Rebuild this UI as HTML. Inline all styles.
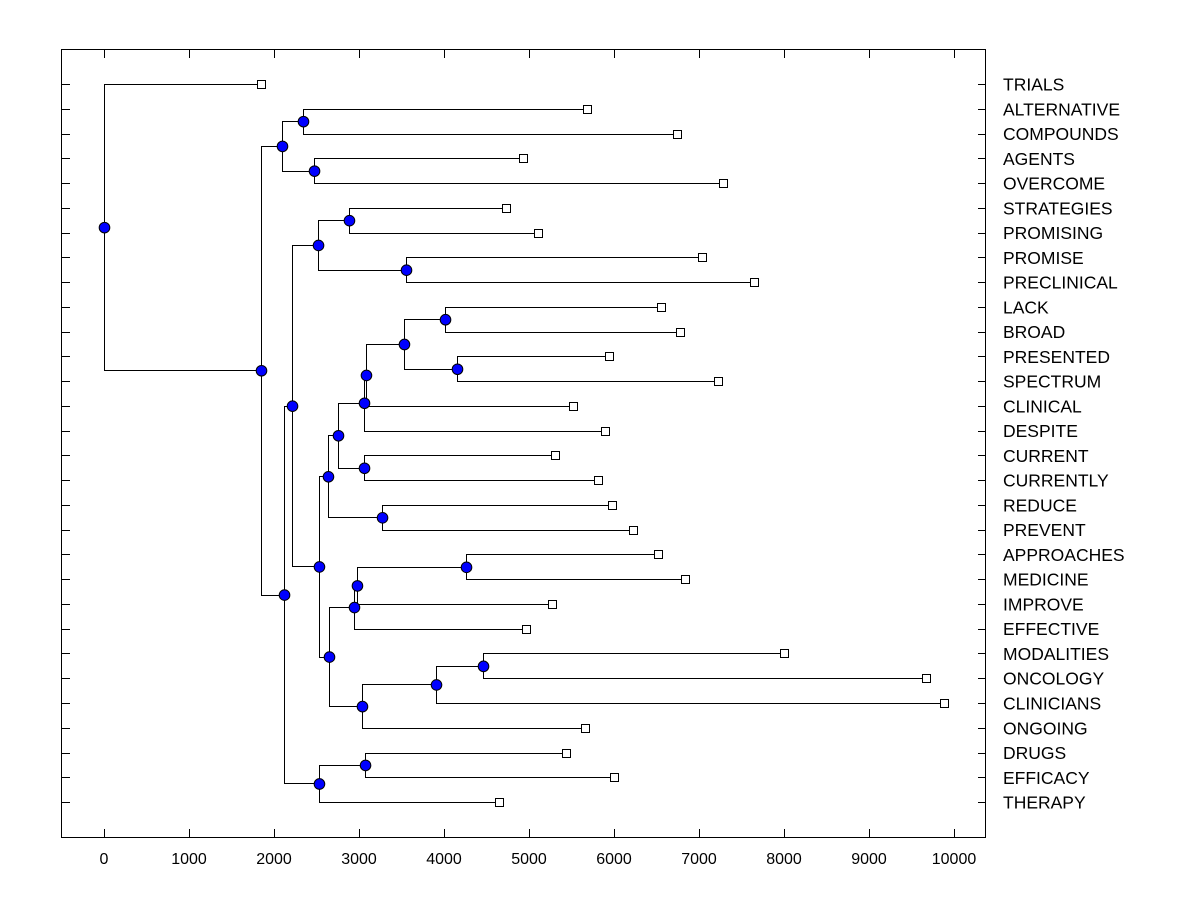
<!DOCTYPE html>
<html><head><meta charset="utf-8"><style>
html,body{margin:0;padding:0;background:#fff;}
svg{display:block;font-family:"Liberation Sans",Arial,sans-serif;}
</style></head><body>
<svg id="chart" width="1200" height="900" viewBox="0 0 1200 900" xmlns="http://www.w3.org/2000/svg">
<rect x="0" y="0" width="1200" height="900" fill="#fff"/>
<rect x="61.5" y="49.5" width="924" height="788" fill="none" stroke="#000" stroke-width="1"/>
<g id="axes"></g><g id="links"></g><g id="nodes"></g><g id="labels"></g>
</svg>
<script>
const leafLabels = ["TRIALS","ALTERNATIVE","COMPOUNDS","AGENTS","OVERCOME","STRATEGIES","PROMISING","PROMISE","PRECLINICAL","LACK","BROAD","PRESENTED","SPECTRUM","CLINICAL","DESPITE","CURRENT","CURRENTLY","REDUCE","PREVENT","APPROACHES","MEDICINE","IMPROVE","EFFECTIVE","MODALITIES","ONCOLOGY","CLINICIANS","ONGOING","DRUGS","EFFICACY","THERAPY"];
const leafValues = [1847,5682,6741,4929,7282,4729,5106,7035,7647,6553,6776,5941,7224,5518,5894,5306,5812,5976,6224,6518,6835,5271,4965,8000,9671,9882,5659,5435,6000,4647];
const mergeLeft  = [1,3,"n0",5,7,"n3",9,11,"n6","n8","n9",15,"n10",17,"n12",19,"n15","n16",23,"n18","n19","n17","n14","n5",27,"n24","n23","n2",0];
const mergeRight = [2,4,"n1",6,8,"n4",10,12,"n7",13,14,16,"n11",18,"n13",20,21,22,24,25,26,"n20","n21","n22",28,29,"n25","n26","n27"];
const mergeHeights = [2341,2471,2094,2882,3553,2518,4012,4153,3529,3082,3059,3059,2753,3271,2635,4259,2976,2941,4459,3906,3035,2647,2529,2212,3071,2529,2118,1847,0];
const xTicks = [0,1000,2000,3000,4000,5000,6000,7000,8000,9000,10000];

const NS="http://www.w3.org/2000/svg";
const X0=104, PX=0.085, Y0=84, ROW=24.76;
const xs = v => X0 + v*PX;
const ys = i => Y0 + i*ROW;
function mk(tag, attrs, parent){const e=document.createElementNS(NS,tag);for(const k in attrs)e.setAttribute(k,attrs[k]);parent.appendChild(e);return e;}
const axes=document.getElementById('axes'), links=document.getElementById('links'), nodes=document.getElementById('nodes'), labels=document.getElementById('labels');

xTicks.forEach(t=>{
  const x=Math.round(xs(t))+0.5;
  let l=mk('line',{x1:x,x2:x,y1:829,y2:838,stroke:'#000'},axes);
  
  
  l=mk('line',{x1:x,x2:x,y1:49,y2:58,stroke:'#000'},axes);
  
  
  const tx=mk('text',{x:xs(t),y:864,'text-anchor':'middle','font-size':'16px',fill:'#000'},axes);
  tx.textContent=t;
  
  
});
leafLabels.forEach((lab,i)=>{
  const y=Math.round(ys(i))+0.5;
  let l=mk('line',{x1:62,x2:70,y1:y,y2:y,stroke:'#000'},axes);
  
  
  l=mk('line',{x1:978,x2:986,y1:y,y2:y,stroke:'#000'},axes);
  
  
  const tx=mk('text',{x:1003,y:ys(i)+6.5,'font-size':'17.5px',fill:'#000'},labels);
  tx.textContent=lab;
  
  
});

const nodeY=[];
function pos(ref){
  if(typeof ref==='number') return {x:xs(leafValues[ref]), y:ys(ref)};
  const k=+ref.slice(1); return {x:xs(mergeHeights[k]), y:nodeY[k]};
}
const dots=[];
for(let k=0;k<mergeHeights.length;k++){
  const a=pos(mergeLeft[k]), b=pos(mergeRight[k]);
  const x=Math.round(xs(mergeHeights[k]))+0.5;
  const ya=Math.round(a.y)+0.5, yb=Math.round(b.y)+0.5;
  nodeY[k]=(a.y+b.y)/2;
  const p=mk('path',{d:`M${Math.round(a.x)} ${ya}H${x}V${yb}H${Math.round(b.x)}`,fill:'none',stroke:'#000','stroke-width':1},links);
  
  
  dots.push([xs(mergeHeights[k]), nodeY[k]]);
}
leafValues.forEach((v,i)=>{
  const r=mk('rect',{x:Math.round(xs(v))-4+0.5,y:Math.round(ys(i))-4+0.5,width:8,height:8,fill:'#fff',stroke:'#000'},nodes);
  
  
});
dots.forEach(d=>{
  const c=mk('circle',{cx:d[0]+0.5,cy:d[1]+0.5,r:5.3,fill:'#0000ff',stroke:'#000','stroke-width':1},nodes);
  
  
});
</script>
</body></html>
